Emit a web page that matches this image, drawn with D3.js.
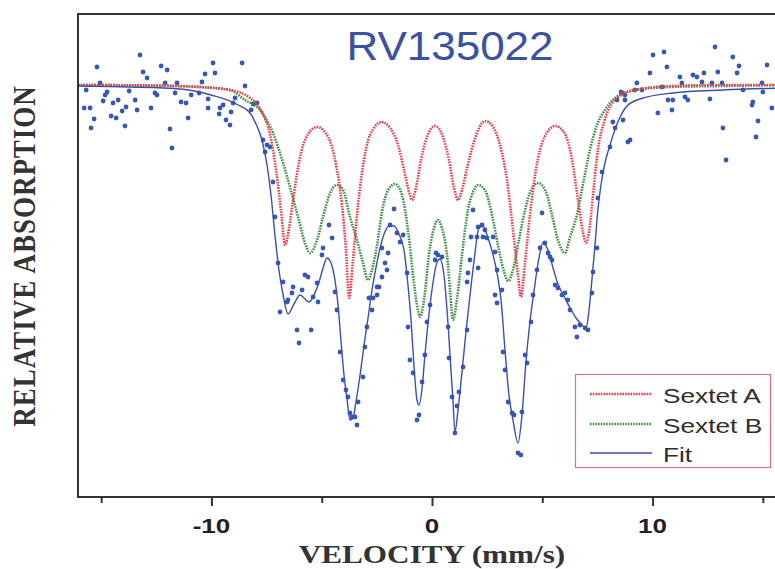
<!DOCTYPE html>
<html>
<head>
<meta charset="utf-8">
<script src="https://cdn.jsdelivr.net/npm/d3@7/dist/d3.min.js"></script>
<style>
  html, body { margin: 0; padding: 0; background: #fff; }
  svg { display: block; }
</style>
</head>
<body>
<svg id="chart" width="775" height="569"></svg>
<script>
// Mössbauer spectrum of sample RV135022: velocity (mm/s) vs relative transmission (%)

const title = "RV135022";
const xLabel = "VELOCITY (mm/s)";
const yLabel = "RELATIVE ABSORPTION";
const tickValues = [-15, -10, -5, 0, 5, 10, 15];
const labeledTicks = [-10, 0, 10];
const legendLabels = ["Sextet A", "Sextet B", "Fit"];

// Sub-spectrum A, [velocity, transmission]
const sextetA = [
  [-16.05,100.00],[-12.78,99.99],[-10.52,99.96],[-9.16,99.90],[-8.25,99.74],[-7.71,99.46],
  [-7.34,99.00],[-7.07,98.30],[-6.84,97.46],[-6.66,96.80],[-6.48,97.14],[-6.30,97.70],
  [-6.07,98.36],[-5.76,98.90],[-5.21,99.16],[-4.71,98.96],[-4.35,98.40],[-4.08,97.60],
  [-3.90,96.70],[-3.76,95.74],[-3.58,96.50],[-3.40,97.40],[-3.17,98.26],[-2.81,99.00],
  [-2.27,99.26],[-1.90,99.14],[-1.54,98.80],[-1.27,98.30],[-1.04,97.86],[-0.91,97.70],
  [-0.73,97.94],[-0.50,98.50],[-0.23,98.96],[0.14,99.18],[0.50,98.96],[0.77,98.50],
  [1.00,97.94],[1.18,97.70],[1.36,97.90],[1.59,98.34],[1.90,98.86],[2.40,99.28],
  [2.77,99.16],[3.08,98.80],[3.40,98.10],[3.67,97.10],[3.90,96.20],[4.03,95.76],
  [4.22,96.46],[4.44,97.40],[4.71,98.30],[5.08,98.94],[5.58,99.18],[5.98,99.06],
  [6.35,98.50],[6.62,97.70],[6.84,97.06],[6.98,96.84],[7.16,97.20],[7.30,97.80],
  [7.52,98.70],[7.80,99.26],[8.20,99.66],[8.75,99.84],[9.43,99.92],[10.92,99.98],
  [13.06,100.00],[16.05,100.00]
];

// Sub-spectrum B, [velocity, transmission]
const sextetB = [
  [-16.05,100.00],[-12.78,99.99],[-10.52,99.96],[-9.16,99.90],[-8.48,99.70],[-7.80,99.50],
  [-7.21,99.04],[-6.75,98.44],[-6.44,97.96],[-6.07,97.36],[-5.76,96.84],[-5.53,96.64],
  [-5.21,96.90],[-4.94,97.36],[-4.62,97.84],[-4.31,98.00],[-4.03,97.90],[-3.72,97.36],
  [-3.40,96.90],[-3.13,96.44],[-2.90,96.10],[-2.72,96.30],[-2.49,96.80],[-2.27,97.46],
  [-1.99,97.90],[-1.68,98.02],[-1.36,97.80],[-1.09,97.10],[-0.86,96.20],[-0.68,95.60],
  [-0.54,95.36],[-0.36,95.70],[-0.14,96.60],[0.09,97.14],[0.27,97.30],[0.45,97.14],
  [0.68,96.60],[0.82,95.90],[0.95,95.30],[1.13,95.70],[1.36,96.60],[1.63,97.50],
  [1.86,97.86],[2.09,98.00],[2.40,97.90],[2.72,97.40],[2.99,96.80],[3.22,96.34],
  [3.45,96.08],[3.67,96.30],[3.94,96.90],[4.22,97.50],[4.49,97.90],[4.81,98.04],
  [5.17,97.86],[5.44,97.40],[5.71,96.90],[5.89,96.70],[6.03,96.64],[6.26,96.96],
  [6.57,97.40],[6.84,98.00],[7.16,98.70],[7.48,99.20],[7.84,99.50],[8.30,99.74],
  [9.20,99.90],[10.79,99.96],[13.06,99.98],[16.05,100.00]
];

// Total fitted curve, [velocity, transmission]
const fit = [
  [-16.05,99.98],[-13.69,99.96],[-11.42,99.92],[-10.02,99.80],[-8.79,99.60],[-8.25,99.44],
  [-7.98,99.22],[-7.71,98.90],[-7.48,98.40],[-7.30,97.80],[-7.12,97.00],[-6.94,96.30],
  [-6.75,95.80],[-6.53,95.42],[-6.26,95.62],[-5.98,95.80],[-5.76,95.72],[-5.58,95.66],
  [-5.35,95.80],[-5.12,96.06],[-4.94,96.34],[-4.76,96.54],[-4.58,96.44],[-4.40,96.10],
  [-4.26,95.60],[-4.13,94.90],[-3.99,94.20],[-3.85,93.70],[-3.72,93.30],[-3.58,93.34],
  [-3.45,93.66],[-3.26,94.20],[-3.08,94.80],[-2.90,95.34],[-2.72,95.90],[-2.49,96.46],
  [-2.22,96.96],[-1.95,97.18],[-1.72,97.18],[-1.50,97.02],[-1.27,96.70],[-1.09,96.00],
  [-0.95,95.30],[-0.82,94.40],[-0.68,93.70],[-0.59,93.60],[-0.45,93.94],[-0.32,94.60],
  [-0.14,95.40],[0.05,96.06],[0.23,96.46],[0.36,96.52],[0.54,96.20],[0.73,95.20],
  [0.86,94.30],[0.95,93.70],[1.04,93.06],[1.18,93.50],[1.36,94.26],[1.54,95.06],
  [1.72,95.78],[1.90,96.46],[2.13,97.14],[2.31,97.18],[2.54,96.94],[2.77,96.60],
  [2.99,96.14],[3.13,95.70],[3.31,94.70],[3.49,93.80],[3.67,93.30],[3.90,92.84],
  [4.08,93.40],[4.26,94.46],[4.44,95.26],[4.62,95.86],[4.81,96.44],[5.03,96.84],
  [5.26,96.70],[5.49,96.34],[5.71,96.02],[5.98,95.78],[6.26,95.54],[6.53,95.34],
  [6.80,95.20],[6.98,95.14],[7.12,95.50],[7.25,96.10],[7.39,96.80],[7.52,97.50],
  [7.66,98.00],[7.84,98.44],[8.07,98.80],[8.39,99.22],[8.84,99.58],[9.43,99.72],
  [10.92,99.84],[13.19,99.90],[16.05,99.94]
];

// Measured spectrum, [velocity, transmission]
const measured = [
  [-13.24,100.60],[-15.19,100.36],[-12.28,100.38],[-12.01,100.30],[-9.93,100.44],[-8.61,100.44],
  [-13.10,100.26],[-12.92,100.14],[-10.29,100.22],[-9.84,100.24],[-10.43,100.06],[-12.10,100.04],
  [-11.56,100.04],[-8.48,99.98],[-15.68,99.90],[-14.73,99.86],[-13.73,99.88],[-12.56,99.84],
  [-12.47,99.80],[-11.65,99.84],[-10.92,99.80],[-10.56,99.84],[-14.82,99.80],[-14.91,99.68],
  [-14.23,99.70],[-14.46,99.64],[-13.46,99.70],[-11.38,99.66],[-11.15,99.64],[-10.15,99.72],
  [-9.47,99.60],[-9.02,99.64],[-8.93,99.74],[-15.77,99.54],[-15.50,99.54],[-13.87,99.56],
  [-14.05,99.48],[-13.37,99.50],[-12.74,99.54],[-10.15,99.54],[-9.61,99.54],[-9.65,99.42],
  [-9.11,99.46],[-8.20,99.50],[-14.55,99.38],[-14.32,99.34],[-11.06,99.34],[-15.32,99.32],
  [-9.34,99.30],[-9.16,99.20],[-13.92,99.18],[-15.46,99.14],[-11.88,99.12],[-11.79,98.74],
  [-15.05,100.04],[-8.11,99.62],[-7.93,99.64],[-7.66,98.90],[-7.48,98.80],[-7.57,98.66],
  [-7.34,98.76],[-7.21,98.06],[-7.12,97.36],[-6.98,96.44],[-6.75,96.06],[-6.30,95.96],
  [-5.89,95.90],[-5.76,96.20],[-5.62,96.16],[-5.21,96.04],[-4.99,96.60],[-4.94,96.74],
  [-4.67,97.20],[-4.53,96.94],[-6.35,95.84],[-6.53,95.70],[-6.57,95.66],[-6.89,95.46],
  [-5.39,95.76],[-5.17,95.66],[-6.12,95.10],[-5.48,95.10],[-6.03,94.84],[-4.40,95.86],
  [-4.31,95.50],[-4.17,94.66],[-4.03,94.10],[-3.90,93.90],[-3.81,93.76],[-3.72,93.44],
  [-3.63,93.36],[-3.49,93.36],[-3.40,93.20],[-3.35,93.66],[-3.13,94.16],[-3.04,94.76],
  [-2.95,95.16],[-2.86,95.74],[-1.72,97.52],[-1.90,97.20],[-1.59,97.04],[-1.31,97.00],
  [-1.45,96.86],[-2.27,96.74],[-1.99,96.64],[-2.13,96.44],[-2.04,96.30],[-2.27,96.16],
  [-2.49,95.96],[-1.13,96.24],[0.18,96.64],[0.27,96.60],[0.14,96.50],[0.45,96.56],
  [1.86,97.50],[2.09,97.16],[2.27,97.20],[2.40,97.10],[2.31,96.96],[2.49,96.94],
  [1.77,96.96],[2.04,96.96],[1.72,96.50],[2.09,96.34],[1.63,96.24],[1.59,96.06],
  [2.77,96.96],[2.86,96.66],[2.95,96.30],[-2.67,95.74],[-2.72,95.50],[-2.49,95.80],
  [-2.40,95.96],[-0.09,95.60],[-1.09,95.16],[-1.00,94.50],[-0.86,94.24],[-0.45,94.06],
  [-0.32,94.60],[-0.23,95.26],[-0.59,93.40],[-0.68,93.30],[0.73,95.16],[0.77,94.54],
  [0.91,93.76],[1.13,93.58],[1.22,93.86],[1.41,94.36],[1.59,95.10],[1.04,93.04],
  [2.86,95.80],[2.95,95.64],[3.17,95.90],[3.22,94.66],[3.31,94.30],[3.45,93.66],
  [3.63,93.44],[3.72,93.40],[3.90,92.64],[4.03,92.60],[4.08,93.46],[4.31,94.44],
  [4.22,94.60],[4.49,95.26],[4.58,95.80],[5.58,96.00],[5.71,95.94],[5.89,95.80],
  [6.03,95.84],[6.16,95.70],[6.26,95.50],[6.48,95.16],[6.71,95.20],[6.94,95.14],
  [7.07,95.10],[6.57,94.96],[7.30,96.26],[7.25,95.84],[4.99,97.44],[5.12,96.84],
  [4.90,96.74],[5.26,96.64],[5.35,96.56],[5.44,96.50],[4.76,96.30],[7.48,96.74],
  [7.52,97.74],[7.71,98.26],[8.07,98.76],[8.30,99.14],[8.20,99.26],[8.61,99.84],
  [8.39,99.70],[8.75,99.70],[8.88,98.86],
  [12.83,100.76],[10.02,100.60],[10.52,100.66],[10.65,100.36],[13.64,100.56],[13.92,100.38],
  [15.19,100.40],[9.88,100.24],[11.24,100.16],[11.83,100.20],[12.01,100.16],[12.33,100.24],
  [12.96,100.26],[13.83,100.24],[12.24,100.06],[9.29,100.04],[9.20,99.90],[8.57,99.86],
  [9.52,99.90],[10.43,99.96],[11.33,100.04],[12.69,100.04],[13.15,100.04],[14.96,100.04],
  [8.75,99.80],[10.70,99.70],[10.92,99.70],[11.47,99.76],[11.60,99.70],[14.10,99.90],
  [15.00,99.86],[12.60,99.72],[14.55,99.66],[14.51,99.60],[15.41,99.54],[10.24,99.44],
  [10.88,99.50],[8.66,99.30],[8.98,98.90],[14.78,99.28],[13.19,99.14],[14.69,98.96],
  [13.33,98.50]
];

const W = 775, H = 569;
const plot = { left: 78, top: 14, right: 775, bottom: 497 };

const colors = {
  a: "#e8414c",
  b: "#3f8f48",
  fit: "#3a4fae",
  dots: "#3557b6",
  axis: "#333333",
  title: "#3b52a3",
  legendBorder: "#e0708a",
  text: "#2e2e2e"
};

const svg = d3.select("#chart");

const x = d3.scaleLinear().domain([-16.05, 16.05]).range([78, 786]);
const y = d3.scaleLinear().domain([91.76, 101.42]).range([plot.bottom, plot.top]);

svg.append("defs").append("clipPath").attr("id", "plot-clip")
  .append("rect")
  .attr("x", plot.left).attr("y", plot.top)
  .attr("width", plot.right - plot.left).attr("height", plot.bottom - plot.top);

const body = svg.append("g").attr("clip-path", "url(#plot-clip)");

const line = d3.line()
  .x(d => x(d[0]))
  .y(d => y(d[1]))
  .curve(d3.curveMonotoneX);

// measured points
body.append("g").selectAll("circle")
  .data(measured)
  .join("circle")
  .attr("cx", d => x(d[0]))
  .attr("cy", d => y(d[1]))
  .attr("r", 2.4)
  .attr("fill", colors.dots);

// sub-spectra drawn as dotted traces
body.append("path").datum(sextetB)
  .attr("d", line).attr("fill", "none")
  .attr("stroke", colors.b).attr("stroke-width", 2.6)
  .attr("stroke-dasharray", "1.6,1.1");

body.append("path").datum(sextetA)
  .attr("d", line).attr("fill", "none")
  .attr("stroke", colors.a).attr("stroke-width", 2.6)
  .attr("stroke-dasharray", "1.6,1.1");

body.append("path").datum(fit)
  .attr("d", line).attr("fill", "none")
  .attr("stroke", colors.fit).attr("stroke-width", 1.4);

// frame: left, top and bottom lines
const frame = svg.append("g").attr("stroke", colors.axis).attr("stroke-width", 2).attr("fill", "none");
frame.append("line").attr("x1", plot.left).attr("x2", plot.left).attr("y1", plot.top - 1).attr("y2", plot.bottom + 1);
frame.append("line").attr("x1", plot.left).attr("x2", plot.right).attr("y1", plot.top).attr("y2", plot.top);

// bottom axis
const xAxis = d3.axisBottom(x)
  .tickValues(tickValues)
  .tickSize(9)
  .tickSizeOuter(0)
  .tickFormat("");
const axisG = svg.append("g")
  .attr("transform", `translate(0,${plot.bottom})`)
  .call(xAxis);
axisG.select(".domain")
  .attr("d", `M${plot.left},0H${plot.right}`)
  .attr("stroke", colors.axis).attr("stroke-width", 2);
axisG.selectAll(".tick line")
  .attr("stroke", colors.axis).attr("stroke-width", 2)
  .attr("y2", d => labeledTicks.includes(d) ? 9 : 6);

// tick labels (horizontally widened lettering)
svg.append("g").selectAll("text")
  .data(labeledTicks)
  .join("text")
  .attr("transform", d => `translate(${x(d)},533) scale(1.3,1)`)
  .attr("text-anchor", "middle")
  .attr("font-family", "Liberation Sans, Arial, sans-serif")
  .attr("font-weight", "bold")
  .attr("font-size", 20)
  .attr("fill", "#222")
  .text(d => String(d));

// axis titles
svg.append("text")
  .attr("transform", "translate(432,563) scale(1.2,1)")
  .attr("text-anchor", "middle")
  .attr("font-family", "Liberation Serif, 'Times New Roman', serif")
  .attr("font-weight", "bold")
  .attr("font-size", 26)
  .attr("fill", "#333")
  .text(xLabel);

svg.append("text")
  .attr("transform", "translate(35,256) rotate(-90) scale(1,1.2)")
  .attr("text-anchor", "middle")
  .attr("font-family", "Liberation Serif, 'Times New Roman', serif")
  .attr("font-weight", "bold")
  .attr("font-size", 27)
  .attr("letter-spacing", 1)
  .attr("fill", "#333")
  .text(yLabel);

// sample title
svg.append("text")
  .attr("transform", "translate(450,60) scale(1.1,1)")
  .attr("text-anchor", "middle")
  .attr("font-family", "Liberation Sans, Arial, sans-serif")
  .attr("font-size", 40)
  .attr("fill", colors.title)
  .text(title);

// legend
const legend = svg.append("g");
legend.append("rect")
  .attr("x", 575.5).attr("y", 374.5).attr("width", 195).attr("height", 93)
  .attr("fill", "#fff").attr("stroke", colors.legendBorder).attr("stroke-width", 1.2);

const legendItems = [
  { label: legendLabels[0], color: colors.a, dash: "1.6,1.1", width: 2.6, y: 394 },
  { label: legendLabels[1], color: colors.b, dash: "1.6,1.1", width: 2.6, y: 424 },
  { label: legendLabels[2], color: colors.fit, dash: null, width: 1.4, y: 453 }
];
const li = legend.selectAll("g.item").data(legendItems).join("g").attr("class", "item");
li.append("line")
  .attr("x1", 590).attr("x2", 652)
  .attr("y1", d => d.y).attr("y2", d => d.y)
  .attr("stroke", d => d.color)
  .attr("stroke-width", d => d.width)
  .attr("stroke-dasharray", d => d.dash);
li.append("text")
  .attr("transform", d => `translate(663,${d.y + 9}) scale(1.25,1)`)
  .attr("font-family", "Liberation Sans, Arial, sans-serif")
  .attr("font-size", 21)
  .attr("fill", colors.text)
  .text(d => d.label);
</script>
</body>
</html>
